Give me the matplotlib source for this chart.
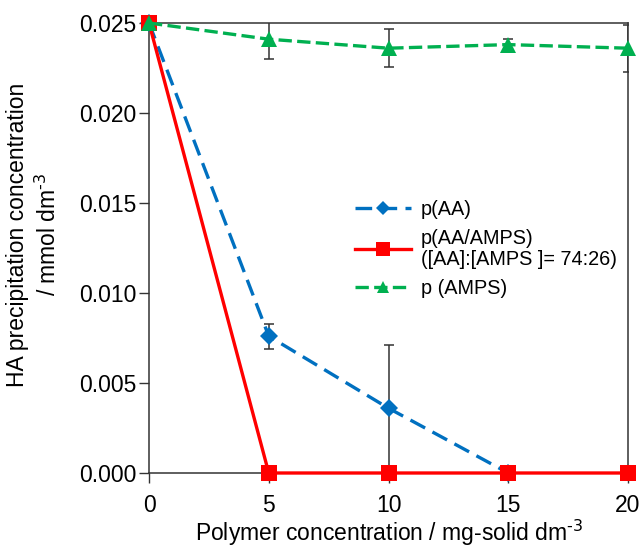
import matplotlib
matplotlib.use("Agg")
import matplotlib.pyplot as plt

plt.rcParams['font.family'] = ['Liberation Sans', 'DejaVu Sans']
plt.rcParams['mathtext.default'] = 'regular'

x_conc = [0, 5, 10, 15, 20]

paa_x = [0, 5, 10, 15]
paa_y = [0.025, 0.0076, 0.0036, 0.0]
paa_err = [0.0, 0.0007, 0.0035, 0.0]

pcopo_y = [0.025, 0.0, 0.0, 0.0, 0.0]

pamps_y = [0.025, 0.0241, 0.0236, 0.0238, 0.0236]
pamps_err = [0.0, 0.0011, 0.00105, 0.0003, 0.0013]

labels = ["p(AA)", "p(AA/AMPS)\n([AA]:[AMPS ]= 74:26)", "p (AMPS)"]
xticks = [0, 5, 10, 15, 20]
yticks = [0.000, 0.005, 0.010, 0.015, 0.020, 0.025]

fig = plt.figure(figsize=(6.44, 5.49), dpi=100)
ax = fig.add_axes([149/644, 1-473/549, (628-149)/644, (473-23)/549])

blue = '#0070C0'
red = '#FF0000'
green = '#00B050'
ecol = '#333333'

# error bars
ax.errorbar(paa_x, paa_y, yerr=paa_err, fmt='none', ecolor=ecol, elinewidth=1.1, capsize=3.3, capthick=1.1, zorder=2)
ax.errorbar(x_conc, pamps_y, yerr=pamps_err, fmt='none', ecolor=ecol, elinewidth=1.1, capsize=3.3, capthick=1.1, zorder=2)

l1, = ax.plot(paa_x, paa_y, color=blue, lw=2.4, ls=(0, (5, 2.5)), marker='D', ms=8.7,
              markeredgewidth=0, zorder=3, clip_on=False, label=labels[0])
l2, = ax.plot(x_conc, pcopo_y, color=red, lw=2.4, ls='-', marker='s', ms=11.5,
              markeredgewidth=0, zorder=4, clip_on=False, label=labels[1])
l3, = ax.plot(x_conc, pamps_y, color=green, lw=2.4, ls=(0, (4, 1.6)), marker='^', ms=11,
              markeredgewidth=0, zorder=5, clip_on=False, label=labels[2])

ax.set_xlim(0, 20)
ax.set_ylim(0, 0.025)
ax.set_xticks(xticks)
ax.set_xticklabels([str(t) for t in xticks])
ax.set_yticks(yticks)
ax.set_yticklabels([f"{t:.3f}" for t in yticks])
ax.tick_params(axis='both', direction='out', length=7, width=1, color=ecol, labelsize=16.5)
ax.tick_params(axis='y', pad=2)
ax.tick_params(axis='x', pad=8)
for s in ax.spines.values():
    s.set_color(ecol)
    s.set_linewidth(1.1)

ax.set_xlabel(r"Polymer concentration / mg-solid dm$^{\text{-3}}$", fontsize=16.5, labelpad=1)
ax.set_ylabel("HA precipitation concentration\n" r"/ mmol dm$^{\text{-3}}$", fontsize=16.5, linespacing=1.35)
ax.yaxis.set_label_coords(-0.183, 0.53)

leg = ax.legend(handles=[l1, l2, l3], loc='upper left', bbox_to_anchor=(0.43, 0.607),
                frameon=False, fontsize=14.3, handlelength=2.8, handletextpad=0.5,
                labelspacing=0.5, borderaxespad=0, borderpad=0, markerscale=0.85)
for t in leg.get_texts():
    t.set_linespacing(1.12)

fig.savefig("out.png", dpi=100)
